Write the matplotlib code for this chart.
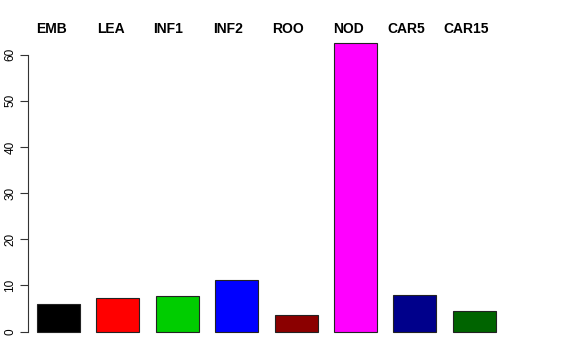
import matplotlib
matplotlib.use("Agg")
import matplotlib.pyplot as plt

categories = ["EMB", "LEA", "INF1", "INF2", "ROO", "NOD", "CAR5", "CAR15"]
values = [6.0, 7.3, 7.8, 11.1, 3.5, 62.4, 7.9, 4.5]
colors = ["#000000", "#FF0000", "#00CD00", "#0000FF", "#8B0000", "#FF00FF", "#00008B", "#006400"]
yticks = [0, 10, 20, 30, 40, 50, 60]

# layout (pixels)
W, H = 576, 360
label_left_px = [36.5, 96.7, 153.3, 213.3, 272.3, 333.3, 387.3, 443.3]

plt.rcParams['font.family'] = ['Liberation Sans', 'DejaVu Sans']
fig = plt.figure(figsize=(W / 100, H / 100), dpi=100)
ax_left, ax_right = 28, 504
ax_top, ax_bot = 31.9, 343.2
ax = fig.add_axes([ax_left / W, 1 - ax_bot / H, (ax_right - ax_left) / W, (ax_bot - ax_top) / H])

x = list(range(len(categories)))
ax.bar(x, values, width=0.724, color=colors, edgecolor="#222222", linewidth=0.8)
ax.set_xlim(-0.513, 7.5)
ax.set_ylim(-2.5, 64.9)

for s in ["top", "right", "bottom"]:
    ax.spines[s].set_visible(False)
ax.spines["left"].set_bounds(0, 60)
ax.spines["left"].set_linewidth(0.8)
ax.spines["left"].set_color("#333333")
ax.set_xticks([])
ax.set_yticks(yticks)
ax.set_yticklabels([str(t) for t in yticks], rotation=90, va="center", fontsize=8.5)
ax.tick_params(axis="y", length=5.5, width=0.8, color="#333333", pad=3)

for lab, px in zip(categories, label_left_px):
    fig.text(px / W, 1 - 29 / H, lab, ha="left", va="center", fontsize=10, fontweight="bold")

fig.savefig("out.png", dpi=100)
